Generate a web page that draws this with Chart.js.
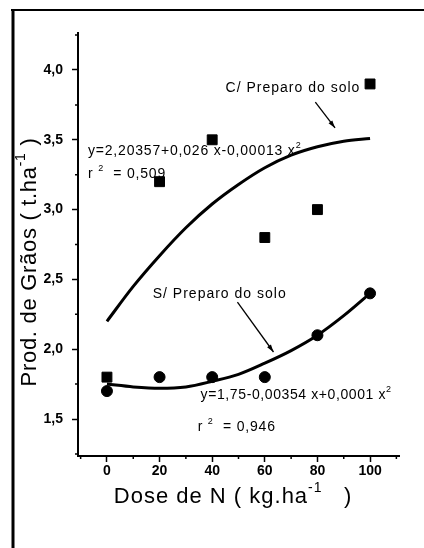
<!DOCTYPE html>
<html>
<head>
<meta charset="utf-8">
<script src="https://cdn.jsdelivr.net/npm/chart.js@4.4.1/dist/chart.umd.min.js"></script>
<style>
  html, body { margin: 0; padding: 0; background: #fff; }
  canvas { display: block; }
</style>
</head>
<body>
<canvas id="chart" width="424" height="548"></canvas>
<script>
// doses de N (kg/ha)
const doses = [0, 20, 40, 60, 80, 100];
// produtividade observada (t/ha)
const comPreparo = [1.8, 3.2, 3.5, 2.8, 3.0, 3.9];
const semPreparo = [1.7, 1.8, 1.8, 1.8, 2.1, 2.4];
// curvas ajustadas
const dosesCurva = [0, 10, 20, 30, 40, 50, 60, 70, 80, 90, 100];
const curvaCom = [2.20, 2.45, 2.67, 2.87, 3.04, 3.18, 3.30, 3.39, 3.45, 3.49, 3.51];
const curvaSem = [1.75, 1.73, 1.72, 1.73, 1.77, 1.82, 1.90, 1.99, 2.10, 2.24, 2.40];
// eixos
const xTicks = [0, 20, 40, 60, 80, 100];
const yTicks = [1.5, 2.0, 2.5, 3.0, 3.5, 4.0];
const xMinor = [-10, 10, 30, 50, 70, 90, 110];
const yMinor = [1.25, 1.75, 2.25, 2.75, 3.25, 3.75, 4.25];

const FONT = '"Liberation Sans", Arial, sans-serif';

const toXY = (xs, ys) => xs.map((x, i) => ({ x: x, y: ys[i] }));

// textos e setas (em coordenadas dos dados)
const notes = [
  { x: 45.1, y: 3.87, size: 14, sp: 1, parts: [{ t: 'C/ Preparo do solo' }] },
  { x: -7.2, y: 3.42, size: 14, sp: 0.8, parts: [{ t: 'y=2,20357+0,026 x-0,00013 x' }, { t: '2', sup: true }] },
  { x: -7.2, y: 3.255, size: 14, sp: 0.8, parts: [{ t: 'r ' }, { t: '2', sup: true }, { t: '  = 0,509' }] },
  { x: 17.4, y: 2.394, size: 14, sp: 1, parts: [{ t: 'S/ Preparo do solo' }] },
  { x: 35.6, y: 1.672, size: 14, sp: 0.6, parts: [{ t: 'y=1,75-0,00354 x+0,0001 x' }, { t: '2', sup: true }] },
  { x: 34.5, y: 1.443, size: 14, sp: 0.8, parts: [{ t: 'r ' }, { t: '2', sup: true }, { t: '  = 0,946' }] }
];
const arrows = [
  { from: [79.2, 3.77], to: [86.7, 3.585] },
  { from: [49.6, 2.337], to: [63.3, 1.98] }
];

function partsWidth(ctx, parts, size, sp) {
  let w = 0;
  ctx.letterSpacing = sp + 'px';
  for (const p of parts) {
    ctx.font = (p.sup ? Math.round(size * 0.62) : size) + 'px ' + FONT;
    w += ctx.measureText(p.t).width;
  }
  return w;
}

function drawParts(ctx, x, y, parts, size, sp) {
  let cx = x;
  ctx.letterSpacing = sp + 'px';
  ctx.textBaseline = 'middle';
  ctx.textAlign = 'left';
  for (const p of parts) {
    ctx.font = (p.sup ? Math.round(size * 0.62) : size) + 'px ' + FONT;
    ctx.fillText(p.t, cx, p.sup ? y - size * 0.4 : y);
    cx += ctx.measureText(p.t).width;
  }
}

const extras = {
  id: 'extras',
  beforeDraw(chart) {
    const ctx = chart.ctx;
    ctx.save();
    ctx.fillStyle = '#fff';
    ctx.fillRect(0, 0, chart.width, chart.height);
    // moldura
    ctx.strokeStyle = '#000';
    ctx.lineWidth = 2;
    ctx.beginPath();
    ctx.moveTo(11, 10);
    ctx.lineTo(424, 10);
    ctx.stroke();
    ctx.lineWidth = 3;
    ctx.beginPath();
    ctx.moveTo(13, 9);
    ctx.lineTo(13, 548);
    ctx.stroke();
    ctx.restore();
  },
  afterDraw(chart) {
    const ctx = chart.ctx;
    const xs = chart.scales.x, ys = chart.scales.y;
    ctx.save();
    ctx.strokeStyle = '#000';
    ctx.fillStyle = '#000';
    // marcas menores
    ctx.lineWidth = 1.5;
    ctx.beginPath();
    xMinor.forEach(v => {
      const px = xs.getPixelForValue(v);
      ctx.moveTo(px, ys.bottom);
      ctx.lineTo(px, ys.bottom + 3);
    });
    yMinor.forEach(v => {
      const py = ys.getPixelForValue(v);
      ctx.moveTo(xs.left, py);
      ctx.lineTo(xs.left - 3, py);
    });
    ctx.stroke();

    // setas
    arrows.forEach(a => {
      const x1 = xs.getPixelForValue(a.from[0]), y1 = ys.getPixelForValue(a.from[1]);
      const x2 = xs.getPixelForValue(a.to[0]), y2 = ys.getPixelForValue(a.to[1]);
      const ang = Math.atan2(y2 - y1, x2 - x1);
      ctx.lineWidth = 1.3;
      ctx.beginPath();
      ctx.moveTo(x1, y1);
      ctx.lineTo(x2, y2);
      ctx.stroke();
      ctx.beginPath();
      ctx.moveTo(x2, y2);
      ctx.lineTo(x2 - 8 * Math.cos(ang - 0.3), y2 - 8 * Math.sin(ang - 0.3));
      ctx.lineTo(x2 - 8 * Math.cos(ang + 0.3), y2 - 8 * Math.sin(ang + 0.3));
      ctx.closePath();
      ctx.fill();
    });

    // anotacoes
    notes.forEach(n => {
      drawParts(ctx, xs.getPixelForValue(n.x), ys.getPixelForValue(n.y), n.parts, n.size, n.sp);
    });

    // titulos dos eixos
    const xt = [{ t: 'Dose de N ( kg.ha' }, { t: '-1', sup: true }, { t: '   )' }];
    const wx = partsWidth(ctx, xt, 22, 1);
    drawParts(ctx, 233 - wx / 2, 497, xt, 22, 1);

    const yt = [{ t: 'Prod. de Grãos ( t.ha' }, { t: '-1', sup: true }, { t: ' )' }];
    const wy = partsWidth(ctx, yt, 22, 0.7);
    ctx.translate(30, 262);
    ctx.rotate(-Math.PI / 2);
    drawParts(ctx, -wy / 2, 0, yt, 22, 0.7);
    ctx.restore();
  }
};

new Chart(document.getElementById('chart'), {
  type: 'scatter',
  data: {
    datasets: [
      {
        label: 'C/ Preparo do solo',
        data: toXY(doses, comPreparo),
        pointStyle: 'rect',
        pointRadius: 7,
        backgroundColor: '#000',
        borderColor: '#000',
        order: 0
      },
      {
        label: 'S/ Preparo do solo',
        data: toXY(doses, semPreparo),
        pointStyle: 'circle',
        pointRadius: 5.5,
        backgroundColor: '#000',
        borderColor: '#000',
        order: 0
      },
      {
        type: 'line',
        label: 'ajuste C/',
        data: toXY(dosesCurva, curvaCom),
        borderColor: '#000',
        borderWidth: 3,
        pointRadius: 0,
        cubicInterpolationMode: 'monotone',
        fill: false,
        order: 1
      },
      {
        type: 'line',
        label: 'ajuste S/',
        data: toXY(dosesCurva, curvaSem),
        borderColor: '#000',
        borderWidth: 3,
        pointRadius: 0,
        cubicInterpolationMode: 'monotone',
        fill: false,
        order: 1
      }
    ]
  },
  options: {
    responsive: false,
    animation: false,
    events: [],
    layout: { padding: { left: 0, top: 33, right: 25, bottom: 0 } },
    plugins: { legend: { display: false }, tooltip: { enabled: false } },
    scales: {
      x: {
        type: 'linear',
        min: -11,
        max: 111,
        afterBuildTicks: s => { s.ticks = xTicks.map(v => ({ value: v })); },
        afterFit: s => { s.height = 92; },
        border: { color: '#000', width: 2 },
        grid: { drawOnChartArea: false, drawTicks: true, tickLength: 6, tickColor: '#000', tickWidth: 1.5 },
        ticks: { color: '#000', padding: 1, font: { family: FONT, size: 14, weight: 'bold' } }
      },
      y: {
        type: 'linear',
        min: 1.235,
        max: 4.265,
        afterBuildTicks: s => { s.ticks = yTicks.map(v => ({ value: v })); },
        afterFit: s => { s.width = 78; },
        border: { color: '#000', width: 2 },
        grid: { drawOnChartArea: false, drawTicks: true, tickLength: 6, tickColor: '#000', tickWidth: 1.5 },
        ticks: {
          color: '#000',
          padding: 9,
          font: { family: FONT, size: 14, weight: 'bold' },
          callback: v => v.toFixed(1).replace('.', ',')
        }
      }
    }
  },
  plugins: [extras]
});
</script>
</body>
</html>
